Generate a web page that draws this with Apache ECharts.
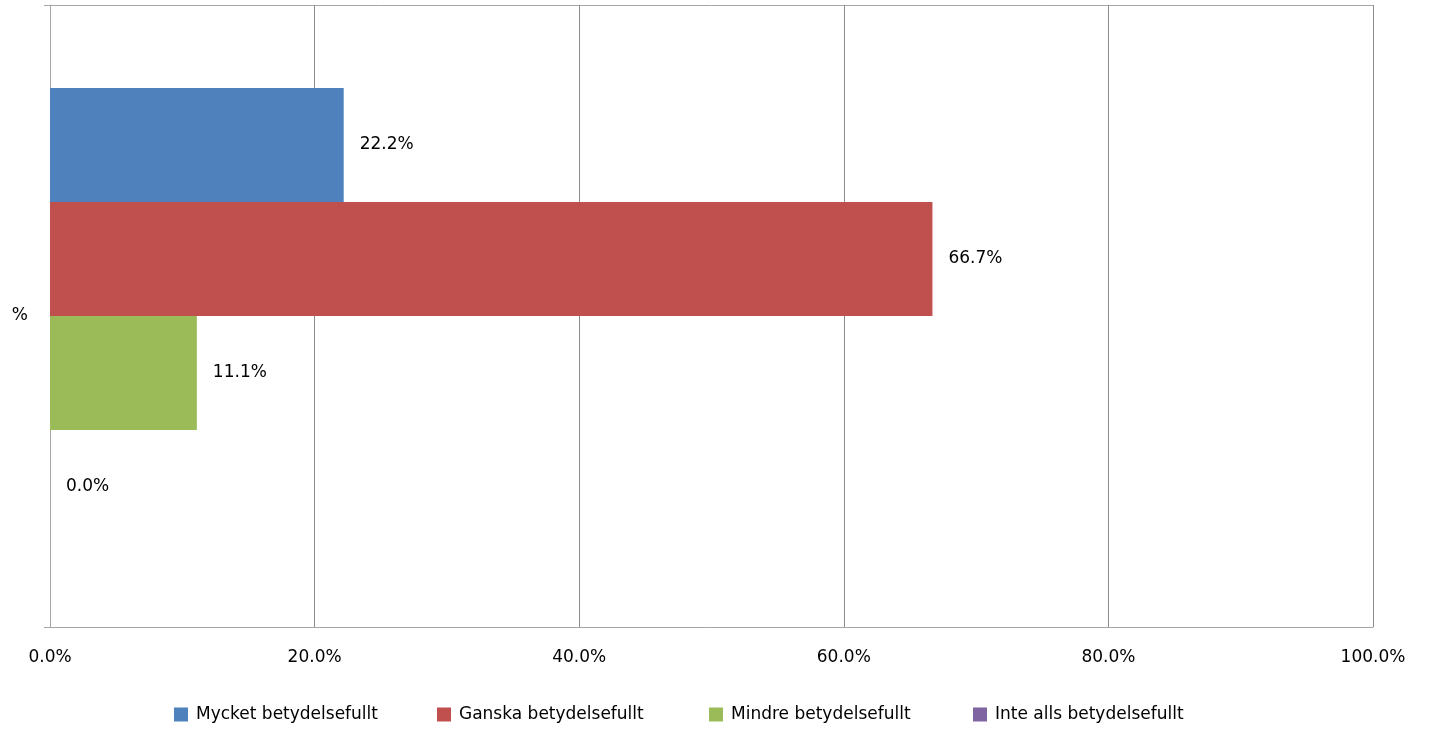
<!DOCTYPE html>
<html><head><meta charset="utf-8">
<script src="https://cdn.jsdelivr.net/npm/echarts@6/dist/echarts.min.js"></script>
<style>html,body{margin:0;padding:0;background:#fff}#c{width:1430px;height:731px}</style>
</head><body><div id="c"></div>
<script>
const categories = ['%'];
const seriesNames = ['Mycket betydelsefullt', 'Ganska betydelsefullt', 'Mindre betydelsefullt', 'Inte alls betydelsefullt'];
const seriesValues = [[22.2], [66.7], [11.1], [0.0]];
const xTicks = [0, 20, 40, 60, 80, 100];
const colors = ['#4f81bd', '#c0504d', '#9bbb59', '#8064a2'];
const legendLeft = [174, 437, 709, 973];
const font = 'DejaVu Sans';
const chart = echarts.init(document.getElementById('c'));
chart.setOption({
  animation: false,
  grid: {left: 50, right: 57, top: 5, bottom: 104, containLabel: false},
  legend: seriesNames.map((n, i) => ({
    bottom: 8, left: legendLeft[i], padding: 0, itemWidth: 14, itemHeight: 14, icon: 'rect',
    textStyle: {fontFamily: font, fontSize: 17, color: '#000', padding: [0, 0, 0, 3]},
    data: [n]
  })),
  xAxis: {
    type: 'value', min: xTicks[0], max: xTicks[xTicks.length - 1], interval: 20,
    axisLine: {show: true, lineStyle: {color: '#a6a6a6'}},
    axisTick: {show: false},
    splitLine: {show: true, lineStyle: {color: '#8c8c8c'}},
    axisLabel: {formatter: v => v.toFixed(1) + '%', fontFamily: font, fontSize: 17, color: '#000', margin: 22}
  },
  yAxis: {
    type: 'category', data: categories, inverse: true,
    axisLine: {show: true, lineStyle: {color: '#a6a6a6'}},
    axisTick: {show: true, length: 6, lineStyle: {color: '#a6a6a6'}},
    splitLine: {show: true, lineStyle: {color: '#a6a6a6'}},
    axisLabel: {fontFamily: font, fontSize: 17, color: '#000', margin: 22}
  },
  series: seriesNames.map((n, i) => ({
    name: n, type: 'bar', data: seriesValues[i], barGap: '0%', barCategoryGap: '26.7%',
    itemStyle: {color: colors[i]},
    label: {show: true, position: 'right', distance: 16, formatter: p => p.value.toFixed(1) + '%',
      fontFamily: font, fontSize: 17, color: '#000'}
  }))
});
</script></body></html>
